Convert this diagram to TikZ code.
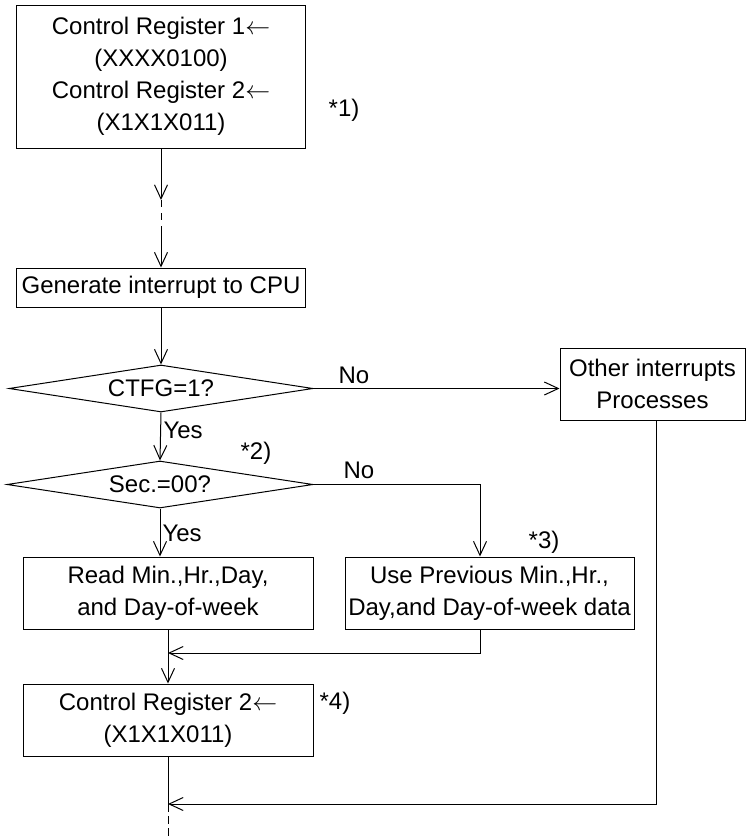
\documentclass[tikz,border=0pt]{standalone}
\usepackage{fontspec}
\setmainfont{Liberation Sans}
\usetikzlibrary{arrows.meta,shapes.geometric}

\begin{document}
\begin{tikzpicture}[x=1pt,y=-1pt,>={Straight Barb[length=14pt,width=13pt]},line width=1pt,
  box/.style={draw,align=center,inner sep=0pt,font=\fontsize{24}{32}\selectfont},
  cond/.style={draw,diamond,shape aspect=6.5,inner sep=0pt,font=\fontsize{24}{32}\selectfont},
  lbl/.style={inner sep=0pt,font=\fontsize{24}{32}\selectfont}]
\useasboundingbox (0,0) rectangle (746,838);
% boxes and decisions
\node[box,minimum width=289pt,minimum height=143pt] (reg) at (161,76.5) {Control Register 1$\leftarrow$\\(XXXX0100)\\Control Register 2$\leftarrow$\\(X1X1X011)};
\node[box,minimum width=289pt,minimum height=39pt] (gen) at (161,287.5) {Generate interrupt to CPU};
\node[cond,minimum width=304pt,minimum height=47pt] (ctfg) at (161,388.5) {CTFG=1?};
\node[box,minimum width=185pt,minimum height=72pt] (oth) at (652.5,384) {Other interrupts\\Processes};
\node[cond,minimum width=306pt,minimum height=47pt] (sec) at (160,484.5) {Sec.=00?};
\node[box,minimum width=290pt,minimum height=72pt] (rd) at (168,593) {Read Min.,Hr.,Day,\\and Day-of-week};
\node[box,minimum width=289pt,minimum height=72pt] (use) at (489.5,593) {Use Previous Min.,Hr.,\\Day,and Day-of-week data};
\node[box,minimum width=290pt,minimum height=72pt] (cr) at (168,720) {Control Register 2$\leftarrow$\\(X1X1X011)};
% free ends
\coordinate (brk1) at (161,200);
\coordinate (brk2) at (161,227);
\coordinate (mrg) at (168,653);
\coordinate (ret) at (168,804);
\coordinate (bot) at (168,838);
% connectors
\draw[->] (reg.south) -- (brk1);
\draw[dash pattern=on 7pt off 6pt] (brk1) -- (brk2);
\draw[->] (brk2) -- (gen.north);
\draw[->] (gen.south) -- (ctfg.north);
\draw[->] (ctfg.east) -- (ctfg.east -| oth.west);
\draw[->] (ctfg.south) -- (sec.north);
\draw[->] (sec.east) -| ([xshift=-9.5pt]use.north);
\draw[->] (sec.south) -- (sec.south |- rd.north);
\draw[->] (rd.south) -- (cr.north);
\draw[->] ([xshift=-9.5pt]use.south) |- (mrg);
\draw (cr.south) -- (ret);
\draw[->] ([xshift=3.5pt]oth.south) |- (ret);
\draw[dash pattern=on 8pt off 4pt] (ret) -- (bot);
% labels
\node[lbl,anchor=west] (no1) at (338,375) {No};
\node[lbl,anchor=west] (yes1) at (163,430) {Yes};
\node[lbl,anchor=west] (no2) at (343,470) {No};
\node[lbl,anchor=west] (yes2) at (162,533) {Yes};
\node[lbl] (n1) at (344,110) {*1)};
\node[lbl] (n2) at (256,453) {*2)};
\node[lbl] (n3) at (544,542) {*3)};
\node[lbl] (n4) at (335,703) {*4)};
\end{tikzpicture}
\end{document}
